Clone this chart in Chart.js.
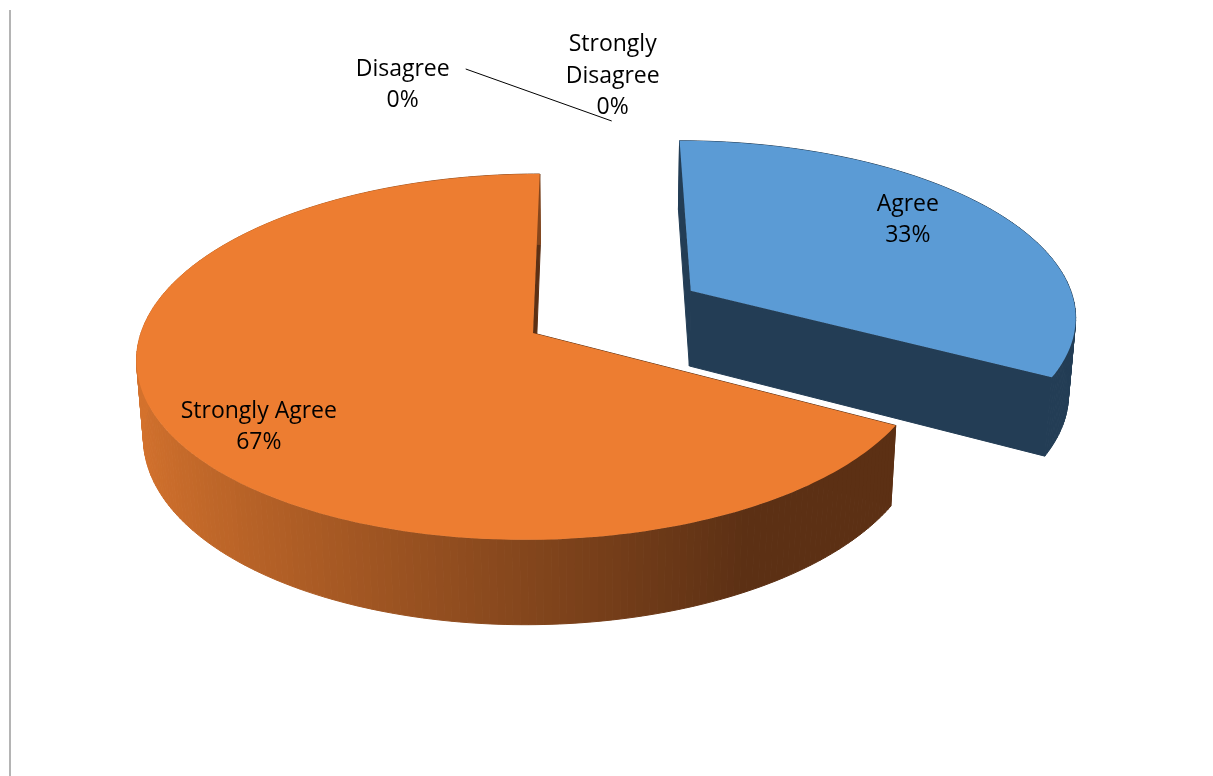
<!DOCTYPE html>
<html>
<head>
<meta charset="utf-8">
<script src="https://cdn.jsdelivr.net/npm/chart.js@4.4.1/dist/chart.umd.min.js"></script>
<style>
    html, body { margin: 0; background: #fff; }
    #wrap { position: relative; width: 1213px; height: 776px; }
    #wrap::before {
        content: '';
        position: absolute;
        left: 9px; top: 10px; bottom: 0;
        width: 2px;
        background: #b4b4b4;
    }
</style>
</head>
<body>
<div id="wrap"><canvas id="surveyPie" width="1213" height="776"></canvas></div>
<script>
const categories = ['Strongly Disagree', 'Disagree', 'Agree', 'Strongly Agree'];
const responses = [0, 0, 33, 67];

const topColors = ['#a5a5a5', '#ffc000', '#5b9bd5', '#ed7d31'];
const wallLight = ['#7c7c7c', '#bf9000', '#233d55', '#d4722d'];
const wallDark = ['#4d4d4d', '#7f6000', '#233d55', '#5c3014'];

function clamp(v) { return Math.max(0, Math.min(1, v)); }

function mix(a, b, t) {
    const pa = [1, 3, 5].map(k => parseInt(a.substr(k, 2), 16));
    const pb = [1, 3, 5].map(k => parseInt(b.substr(k, 2), 16));
    return 'rgb(' + pa.map((v, k) => Math.round(v + (pb[k] - v) * t)).join(',') + ')';
}

// perspective camera looking down at the pie; x right, z toward viewer, h up
function makeView(arc, o) {
    const s = Math.sin(o.tilt), c = Math.cos(o.tilt);
    return (x, z, h) => {
        const p = o.distance / (o.distance - z * c - h * s);
        return [arc.x + o.eyeX + (x - o.eyeX) * p, arc.y + (z * s - h * c) * p];
    };
}

// angles measured clockwise from 12 o'clock, plus the exploded centre
function sliceFrame(arc) {
    const a0 = arc.startAngle + Math.PI / 2;
    const a1 = arc.endAngle + Math.PI / 2;
    const mid = (a0 + a1) / 2;
    const off = arc.options.offset || 0;
    return { a0, a1, mid, r: arc.outerRadius, ox: off * Math.sin(mid), oz: -off * Math.cos(mid) };
}

function onPlane(f, a, r) {
    return [f.ox + r * Math.sin(a), f.oz - r * Math.cos(a)];
}

function fillPath(ctx, pts, color, stroke) {
    ctx.beginPath();
    pts.forEach(([x, y], k) => k ? ctx.lineTo(x, y) : ctx.moveTo(x, y));
    ctx.closePath();
    ctx.fillStyle = color;
    ctx.fill();
    if (stroke) {
        ctx.strokeStyle = color;
        ctx.lineWidth = 1;
        ctx.stroke();
    }
}

function drawSlice(ctx, project, arc, i, o) {
    const f = sliceFrame(arc);
    const pt = (a, r, h) => { const [x, z] = onPlane(f, a, r); return project(x, z, h); };
    const low = -o.depth;
    // light comes from the left, walls facing right go dark
    const shade = n => mix(wallDark[i], wallLight[i], clamp((-Math.sin(n) + 0.5) / 1.5));

    // cut faces
    fillPath(ctx, [pt(0, 0, 0), pt(f.a0, f.r, 0), pt(f.a0, f.r, low), pt(0, 0, low)], shade(f.a0 - Math.PI / 2), true);
    fillPath(ctx, [pt(0, 0, 0), pt(f.a1, f.r, 0), pt(f.a1, f.r, low), pt(0, 0, low)], shade(f.a1 + Math.PI / 2), true);

    // outer wall in thin strips
    const steps = Math.max(2, Math.ceil((f.a1 - f.a0) / (Math.PI / 180)));
    for (let k = 0; k < steps; k++) {
        const b0 = f.a0 + (f.a1 - f.a0) * k / steps;
        const b1 = f.a0 + (f.a1 - f.a0) * (k + 1) / steps;
        fillPath(ctx, [pt(b0, f.r, 0), pt(b1, f.r, 0), pt(b1, f.r, low), pt(b0, f.r, low)], shade((b0 + b1) / 2), true);
    }

    // top face
    const top = [pt(0, 0, 0)];
    for (let k = 0; k <= steps; k++) top.push(pt(f.a0 + (f.a1 - f.a0) * k / steps, f.r, 0));
    fillPath(ctx, top, arc.options.backgroundColor, false);
}

const pie3d = {
    id: 'pie3d',
    beforeDatasetDraw(chart, args, opts) {
        const ctx = chart.ctx;
        const arcs = args.meta.data;
        const project = makeView(arcs[0], opts);
        const depthOf = arc => {
            const f = sliceFrame(arc);
            return onPlane(f, f.mid, f.r / 2)[1];
        };
        const order = arcs.map((a, i) => i).filter(i => arcs[i].circumference > 0);
        order.sort((a, b) => depthOf(arcs[a]) - depthOf(arcs[b]));
        ctx.save();
        order.forEach(i => drawSlice(ctx, project, arcs[i], i, opts));
        ctx.restore();
        return false;
    },
    afterDraw(chart, args, opts) {
        const ctx = chart.ctx;
        const arcs = chart.getDatasetMeta(0).data;
        const project = makeView(arcs[0], opts);
        const values = chart.data.datasets[0].data;
        const total = values.reduce((s, v) => s + v, 0);

        ctx.save();
        ctx.font = opts.font;
        ctx.fillStyle = '#000';
        ctx.textAlign = 'center';
        ctx.textBaseline = 'middle';

        arcs.forEach((arc, i) => {
            const f = sliceFrame(arc);
            const pct = Math.round(values[i] / total * 100) + '%';
            let x, y, lines;
            if (values[i] > 0) {
                const a = f.mid + opts.labelShift[i] * Math.PI / 180;
                const [px, pz] = onPlane(f, a, f.r * opts.labelRadius[i]);
                [x, y] = project(px, pz, 0);
                lines = [chart.data.labels[i], pct];
            } else {
                const [ex, ez] = onPlane(f, f.mid, f.r);
                const [rx, ry] = project(ex, ez, 0);
                x = rx + opts.outside[i][0];
                y = ry + opts.outside[i][1];
                lines = chart.data.labels[i].split(' ').concat(pct);
                const lead = opts.leaders[i];
                if (lead) {
                    ctx.beginPath();
                    ctx.moveTo(rx + lead[0][0], ry + lead[0][1]);
                    ctx.lineTo(rx + lead[1][0], ry + lead[1][1]);
                    ctx.strokeStyle = '#000';
                    ctx.lineWidth = 1;
                    ctx.stroke();
                }
            }
            const y0 = y - (lines.length - 1) * opts.lineHeight / 2;
            lines.forEach((t, k) => ctx.fillText(t, x, y0 + k * opts.lineHeight));
        });
        ctx.restore();
    }
};

const ctx = document.getElementById('surveyPie').getContext('2d');
const surveyPie = new Chart(ctx, {
    type: 'pie',
    data: {
        labels: categories,
        datasets: [{
            data: responses,
            backgroundColor: topColors,
            borderWidth: 0,
            offset: [0, 0, 187, 0],
            radius: 392,
            clip: false
        }]
    },
    options: {
        responsive: false,
        animation: false,
        layout: { padding: { left: 0, right: 147, top: 0, bottom: 110 } },
        plugins: {
            legend: { display: false },
            tooltip: { enabled: false },
            pie3d: {
                tilt: 27.3 * Math.PI / 180,
                distance: 2664,
                eyeX: 58,
                depth: 88,
                font: '23px "Open Sans"',
                lineHeight: 31.5,
                labelShift: [0, 0, -5, -6.6],
                labelRadius: [1, 1, 0.76, 0.81],
                outside: [[73, -98], [-137, -89], null, null],
                leaders: [null, [[-74, -105], [72, -53]], null, null]
            }
        }
    },
    plugins: [pie3d]
});
</script>
</body>
</html>
